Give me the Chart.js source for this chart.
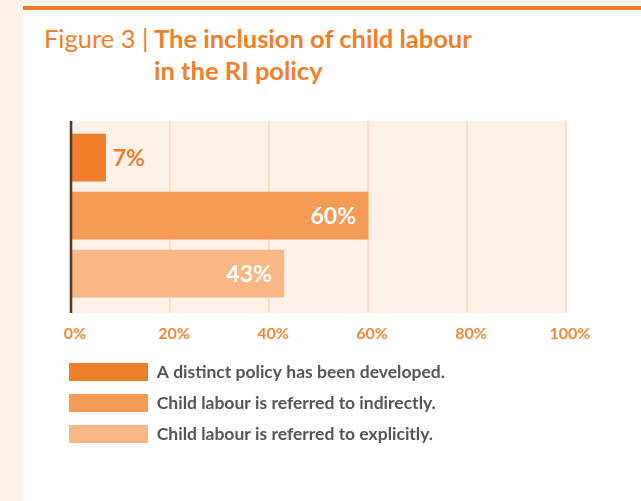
<!DOCTYPE html>
<html>
<head>
<meta charset="utf-8">
<script src="https://cdn.jsdelivr.net/npm/chart.js@4.4.1/dist/chart.umd.min.js"></script>
<style>
  body { margin: 0; width: 641px; height: 501px; background: #fdf3ea; position: relative; overflow: hidden; font-family: Lato, sans-serif; }
  #panel { position: absolute; left: 23px; top: 6px; right: 0; bottom: 0; background: #fff; border-top: 4px solid #f07f2b; }
  #fig { position: absolute; left: 44px; top: 22px; color: #f07f2b; font-size: 25.5px; line-height: 32px; }
  #ttl { position: absolute; left: 154px; top: 22px; color: #f07f2b; font-size: 25.5px; font-weight: bold; line-height: 32px; }
  #wrap { position: absolute; left: 0; top: 0; width: 641px; height: 501px; }
</style>
</head>
<body>
<div id="panel"></div>
<div id="fig">Figure 3 |</div>
<div id="ttl">The inclusion of child labour<br>in the RI policy</div>
<div id="wrap"><canvas id="policyChart"></canvas></div>

<script>
// --------------- Data -----------------
const categories = [
  "A distinct policy has been developed.",
  "Child labour is referred to indirectly.",
  "Child labour is referred to explicitly."
];
const shares = [7, 60, 43];
const barColors = ["#ef7f2b", "#f59b56", "#f8b784"];
const xTicks = [0, 20, 40, 60, 80, 100];

// --------------- Plot background -----------------
const plotBackground = {
  id: "plotBackground",
  beforeDraw(chart) {
    const { ctx, chartArea: a } = chart;
    ctx.save();
    ctx.fillStyle = "#fdf1e8";
    ctx.fillRect(a.left, a.top, a.right - a.left, a.bottom - a.top);
    ctx.restore();
  }
};

// --------------- Zero line + value labels (drawn over the bars) -----------------
const valueLabels = {
  id: "valueLabels",
  afterDatasetsDraw(chart) {
    const { ctx, chartArea: a } = chart;
    const x0 = chart.scales.x.getPixelForValue(0);
    ctx.save();
    ctx.strokeStyle = "#5b3b1f";
    ctx.lineWidth = 2.6;
    ctx.beginPath();
    ctx.moveTo(x0, a.top);
    ctx.lineTo(x0, a.bottom);
    ctx.stroke();

    ctx.font = "bold 23px Lato";
    ctx.textBaseline = "middle";
    chart.data.datasets.forEach((ds, i) => {
      const bar = chart.getDatasetMeta(i).data[0];
      const v = ds.data[0].x;
      if (v < 15) {
        ctx.fillStyle = "#ef7f2b";
        ctx.textAlign = "left";
        ctx.fillText(v + "%", bar.x + 7, bar.y + 1);
      } else {
        ctx.fillStyle = "#ffffff";
        ctx.textAlign = "right";
        ctx.fillText(v + "%", bar.x - 12, bar.y + 1);
      }
    });
    ctx.restore();
  }
};

const ctx = document.getElementById("policyChart").getContext("2d");

new Chart(ctx, {
  type: "bar",
  data: {
    datasets: categories.map((c, i) => ({
      label: c,
      data: [{ x: shares[i], y: i }],
      backgroundColor: barColors[i],
      barThickness: 47,
      grouped: false
    }))
  },
  options: {
    indexAxis: "y",
    responsive: true,
    maintainAspectRatio: false,
    animation: false,
    layout: { padding: { left: 56, right: 75, top: 121, bottom: 48 } },
    plugins: {
      tooltip: { enabled: false },
      legend: {
        position: "bottom",
        align: "start",
        labels: {
          boxWidth: 79,
          boxHeight: 18,
          padding: 13,
          color: "#555555",
          font: { family: "Lato", size: 17.5, weight: "bold" }
        }
      }
    },
    scales: {
      x: {
        type: "linear",
        min: 0,
        max: 100,
        afterBuildTicks: s => { s.ticks = xTicks.map(v => ({ value: v })); },
        afterFit: s => { s.height = 37; },
        border: { display: false },
        grid: {
          drawTicks: false,
          color: "#fbdcc4",
          lineWidth: 2
        },
        ticks: {
          padding: 11,
          labelOffset: 4,
          color: "#f08a3a",
          font: { family: "Lato", size: 16, weight: "bold" },
          callback: v => v + "%"
        }
      },
      y: {
        type: "linear",
        reverse: true,
        offset: false,
        min: -0.631,
        max: 2.679,
        afterFit: s => { s.width = 15; },
        border: { display: false },
        grid: { display: false, offset: false },
        ticks: { display: false }
      }
    }
  },
  plugins: [plotBackground, valueLabels]
});
</script>
</body>
</html>
